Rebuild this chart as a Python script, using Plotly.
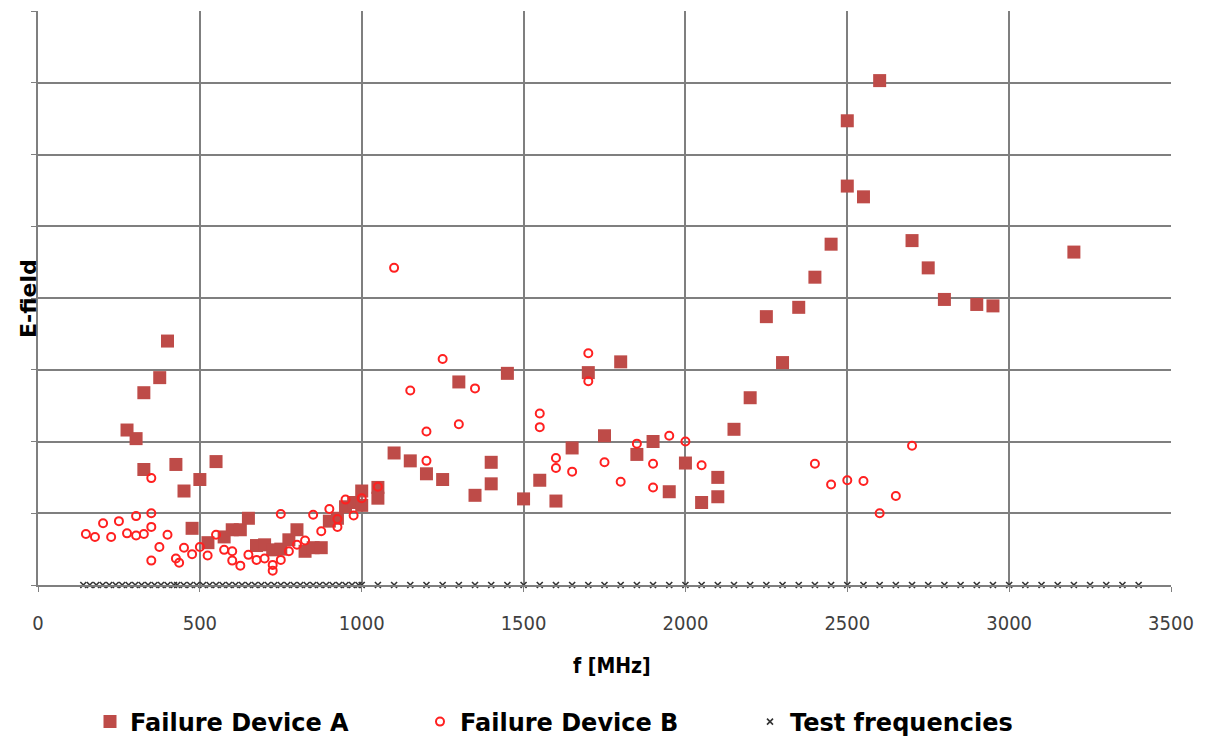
import plotly.graph_objects as go

# Failure Device A (squares)
a_freq = [275, 303, 327, 327, 376, 400, 426, 451, 476, 500, 525, 550, 575, 600, 625, 650,
          675, 700, 725, 750, 775, 800, 825, 850, 875, 900, 925, 950, 975, 1000, 1000,
          1050, 1050, 1100, 1150, 1200, 1250, 1300, 1350, 1400, 1400, 1450, 1500, 1550,
          1600, 1650, 1700, 1750, 1800, 1850, 1900, 1950, 2000, 2050, 2100, 2100, 2150,
          2200, 2250, 2300, 2350, 2400, 2450, 2500, 2500, 2550, 2600, 2700, 2750, 2800,
          2900, 2950, 3200]
a_field = [2.16, 2.04, 2.68, 1.61, 2.89, 3.40, 1.68, 1.31, 0.79, 1.47, 0.59, 1.72, 0.67, 0.77,
           0.77, 0.93, 0.55, 0.56, 0.49, 0.50, 0.63, 0.77, 0.47, 0.52, 0.52, 0.89, 0.93, 1.09,
           1.15, 1.31, 1.11, 1.36, 1.21, 1.84, 1.73, 1.55, 1.47, 2.83, 1.25, 1.71, 1.41, 2.95,
           1.20, 1.46, 1.17, 1.91, 2.96, 2.08, 3.11, 1.82, 2.00, 1.30, 1.70, 1.15, 1.50, 1.23,
           2.17, 2.61, 3.74, 3.10, 3.87, 4.29, 4.75, 5.56, 6.47, 5.41, 7.03, 4.80, 4.42, 3.98,
           3.91, 3.89, 4.64]

# Failure Device B (open circles)
b_freq = [148, 176, 201, 226, 250, 275, 303, 303, 327, 350, 350, 350, 350, 375, 400, 426, 436,
          451, 476, 500, 524, 550, 575, 600, 600, 625, 650, 675, 700, 725, 725, 750, 750, 775,
          800, 825, 850, 875, 900, 925, 925, 950, 975, 1000, 1050, 1100, 1150, 1200, 1200,
          1250, 1300, 1350, 1550, 1550, 1600, 1600, 1650, 1700, 1700, 1750, 1800, 1850, 1900,
          1900, 1950, 2000, 2050, 2400, 2450, 2500, 2550, 2600, 2650, 2700]
b_field = [0.71, 0.67, 0.86, 0.67, 0.89, 0.72, 0.96, 0.69, 0.71, 1.49, 1.00, 0.81, 0.34, 0.53,
           0.70, 0.37, 0.31, 0.52, 0.43, 0.53, 0.41, 0.70, 0.49, 0.47, 0.34, 0.27, 0.42, 0.35,
           0.37, 0.28, 0.20, 0.99, 0.35, 0.47, 0.56, 0.62, 0.98, 0.75, 1.06, 0.92, 0.81, 1.19,
           0.97, 1.21, 1.37, 4.42, 2.71, 2.14, 1.73, 3.15, 2.24, 2.74, 2.39, 2.20, 1.77, 1.63,
           1.58, 3.23, 2.84, 1.71, 1.44, 1.97, 1.69, 1.36, 2.08, 2.00, 1.67, 1.69, 1.40, 1.46,
           1.45, 1.00, 1.24, 1.94]

# Test frequencies (all at zero level)
test_freq = [140, 160, 180, 200, 220, 240, 260, 280, 300, 320, 340, 360, 380, 400, 420,
             430, 450, 470, 490, 510, 530, 550, 570, 590, 610, 630, 650, 670, 690, 710,
             730, 750, 770, 790, 810, 830, 850, 870, 890, 910, 930, 950, 970, 990, 1000,
             1050, 1100, 1150, 1200, 1250, 1300, 1350, 1400, 1450, 1500, 1550, 1600, 1650,
             1700, 1750, 1800, 1850, 1900, 1950, 2000, 2050, 2100, 2150, 2200, 2250, 2300,
             2350, 2400, 2450, 2500, 2550, 2600, 2650, 2700, 2750, 2800, 2850, 2900, 2950,
             3000, 3050, 3100, 3150, 3200, 3250, 3300, 3350, 3400]
test_field = [0] * len(test_freq)

x_ticks = [0, 500, 1000, 1500, 2000, 2500, 3000, 3500]

fig = go.Figure()
fig.add_trace(go.Scatter(
    x=a_freq, y=a_field, mode="markers", name="Failure Device A",
    marker=dict(symbol="square", size=13, color="#BE4B48", line=dict(width=0)),
))
fig.add_trace(go.Scatter(
    x=b_freq, y=b_field, mode="markers", name="Failure Device B",
    marker=dict(symbol="circle-open", size=8, color="#FF2020", line=dict(width=2, color="#FF2020")),
))
fig.add_trace(go.Scatter(
    x=test_freq, y=test_field, mode="markers", name="Test frequencies",
    marker=dict(symbol="x-thin-open", size=6, color="#333333", line=dict(width=1.6, color="#333333")),
    cliponaxis=False,
))

# page (screenshot) geometry of the plot area; body margin of the html page is 8px
OFF = 8
PX0, PX1, PY0, PY1 = 38, 1171, 11, 585
W, H = 1211, 740
L = PX0 - OFF
T = PY0 - OFF
R = W - (PX1 - OFF)
B = H - (PY1 - OFF)
plot_w = PX1 - PX0
plot_h = PY1 - PY0


def px_x(px):
    return (px - PX0) / plot_w


def px_y(py):
    return (PY1 - py) / plot_h


grid_col = "#7F7F7F"
fig.update_layout(
    width=W, height=H,
    margin=dict(l=L, r=R, t=T, b=B, autoexpand=False),
    paper_bgcolor="white", plot_bgcolor="white",
    showlegend=True,
    legend=dict(
        orientation="h", x=px_x(90), xanchor="left",
        y=px_y(722), yanchor="middle",
        font=dict(family="DejaVu Sans, sans-serif", size=24, color="black", weight="bold"),
        entrywidth=285, entrywidthmode="pixels",
    ),
    xaxis=dict(
        range=[0, 3500], tickvals=x_ticks, showgrid=True, gridcolor=grid_col, gridwidth=1.5,
        showline=True, linecolor=grid_col, linewidth=1.8, ticks="outside", ticklen=5, tickcolor=grid_col,
        tickfont=dict(family="Liberation Sans Narrow, DejaVu Sans Condensed, sans-serif", size=20, color="#404040"),
        ticklabelstandoff=14,
        zeroline=False, mirror=False, automargin=False,
    ),
    yaxis=dict(
        range=[0, 8], dtick=1, showgrid=True, gridcolor=grid_col, gridwidth=1.5,
        showline=True, linecolor=grid_col, linewidth=1.8, ticks="outside", ticklen=5, tickcolor=grid_col,
        showticklabels=False, zeroline=False, automargin=False,
    ),
    annotations=[
        dict(text="<b>E-field</b>", textangle=-90, xref="paper", yref="paper",
             x=px_x(28), y=px_y(299), xanchor="center", yanchor="middle",
             showarrow=False, font=dict(family="DejaVu Sans, sans-serif", size=22, color="black")),
        dict(text="<b>f [MHz]</b>", xref="paper", yref="paper",
             x=px_x(612), y=px_y(666), xanchor="center", yanchor="middle",
             showarrow=False,
             font=dict(family="Liberation Sans Narrow, DejaVu Sans Condensed, sans-serif", size=21, color="black")),
    ],
)
fig.write_html("out.html")
